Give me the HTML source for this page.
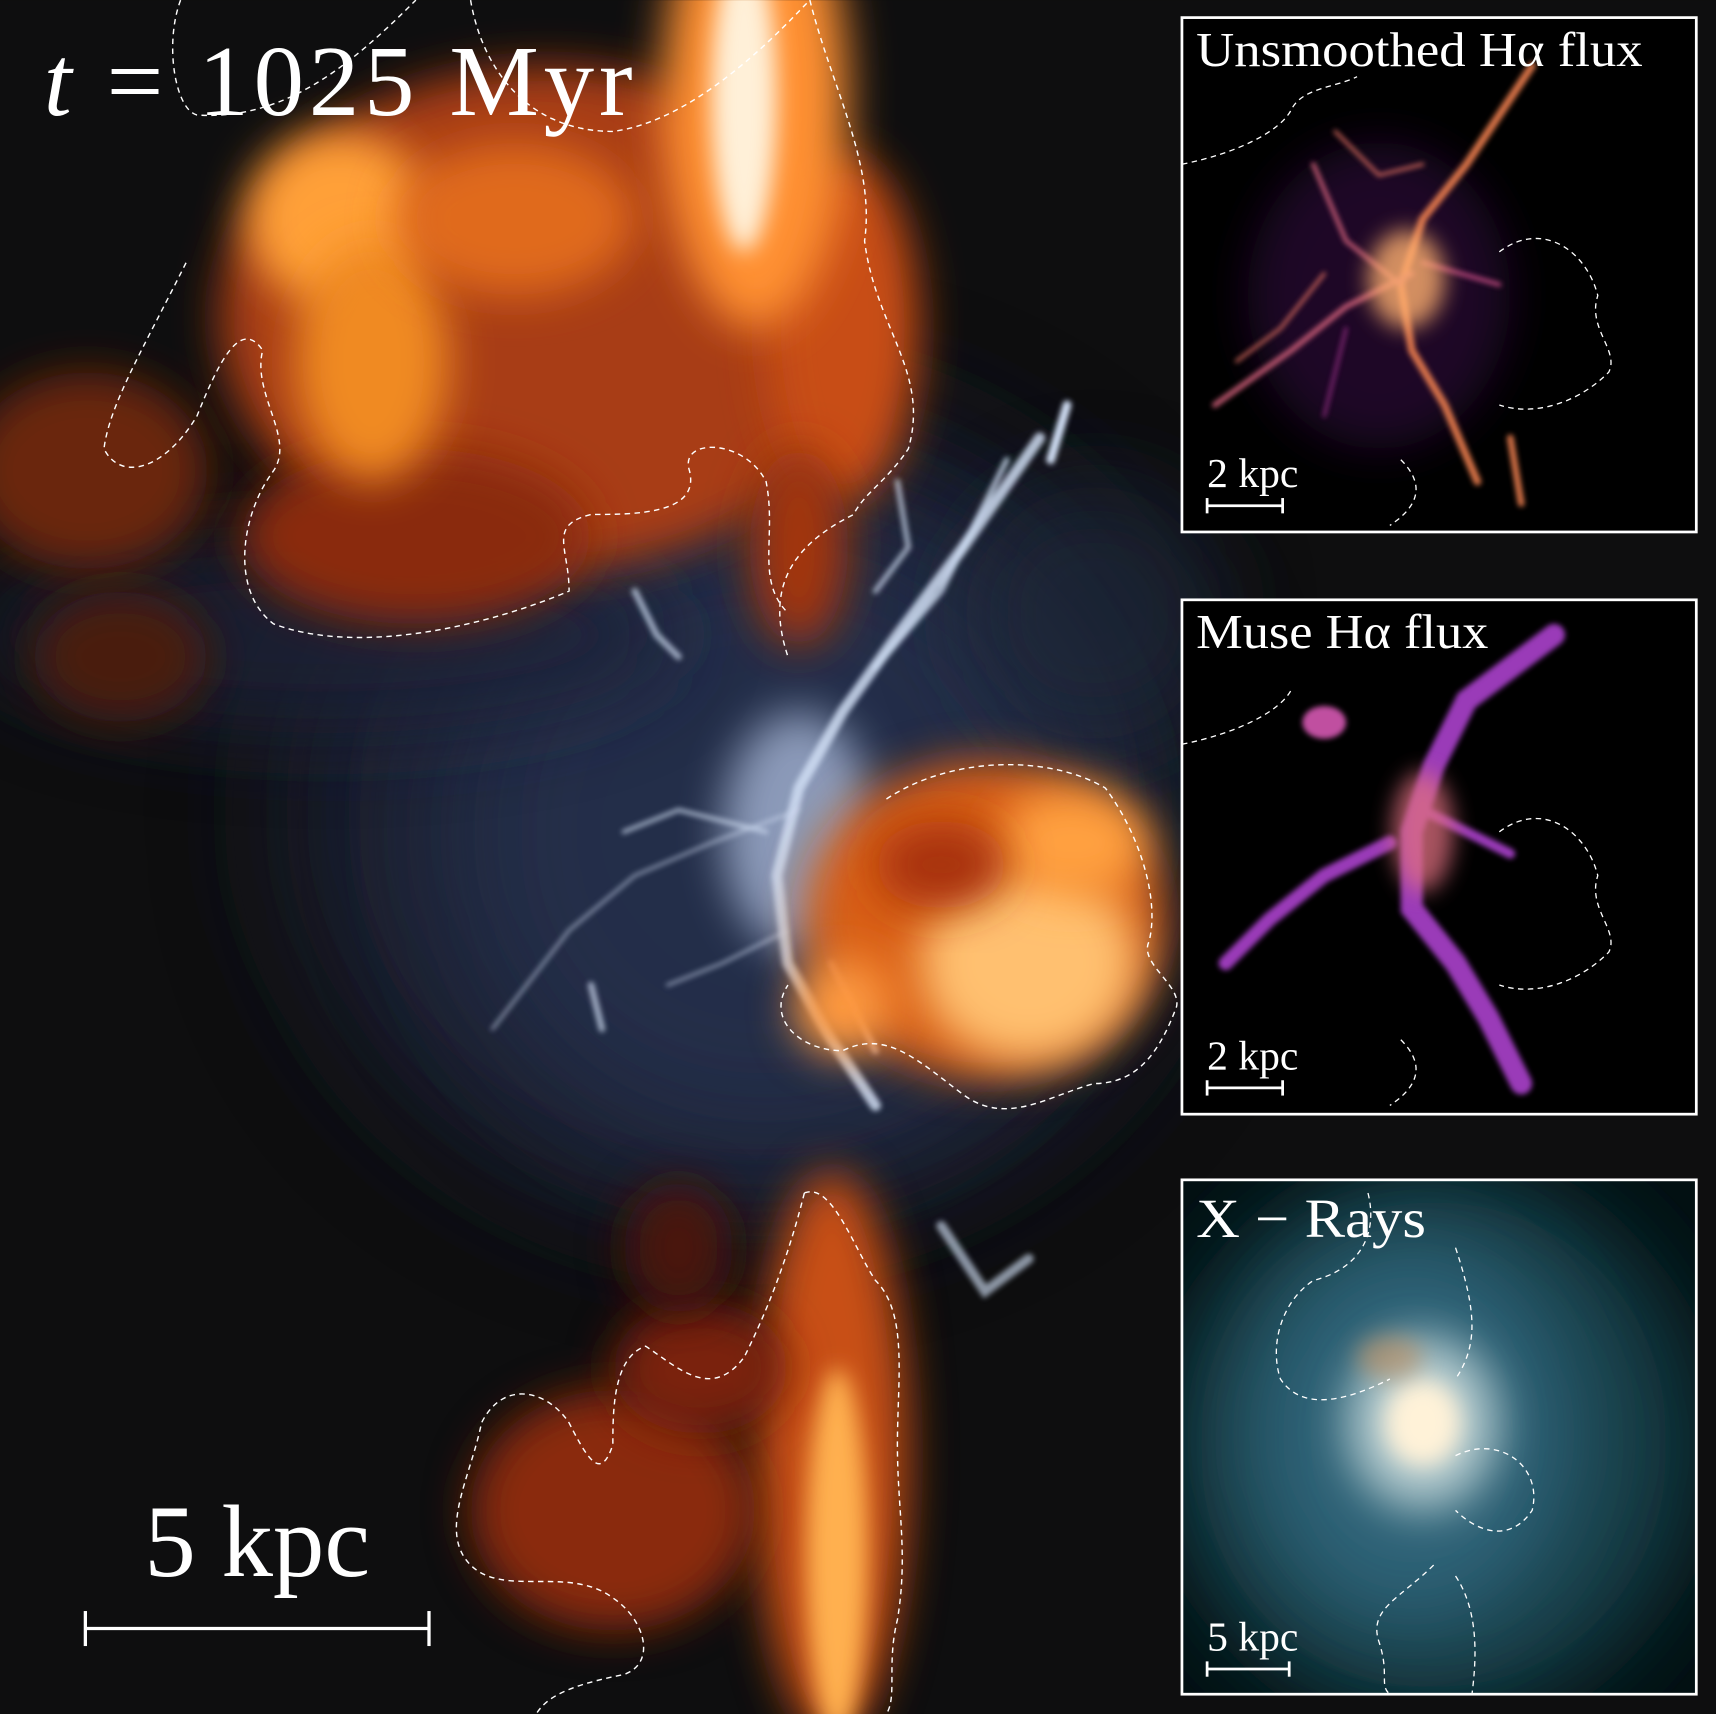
<!DOCTYPE html>
<html><head><meta charset="utf-8"><style>
html,body{margin:0;padding:0;background:#0e0e0f;}
svg{display:block}
text{font-family:"Liberation Serif",serif;fill:#fff}
</style></head><body>
<svg width="1716" height="1714" viewBox="0 0 1568 1566" xmlns="http://www.w3.org/2000/svg">
<defs>
<filter id="b60" x="-50%" y="-50%" width="200%" height="200%"><feGaussianBlur stdDeviation="60"/></filter>
<filter id="b40" x="-50%" y="-50%" width="200%" height="200%"><feGaussianBlur stdDeviation="40"/></filter>
<filter id="b20" x="-50%" y="-50%" width="200%" height="200%"><feGaussianBlur stdDeviation="20"/></filter>
<filter id="b10" x="-50%" y="-50%" width="200%" height="200%"><feGaussianBlur stdDeviation="10"/></filter>
<filter id="b4" x="-50%" y="-50%" width="200%" height="200%"><feGaussianBlur stdDeviation="2.5"/></filter>
<clipPath id="mainclip"><rect x="0" y="0" width="1568" height="1566"/></clipPath>
<clipPath id="c1"><rect x="1080" y="16" width="470" height="470"/></clipPath>
<clipPath id="c2"><rect x="1080" y="548" width="470" height="470"/></clipPath>
<clipPath id="c3"><rect x="1080" y="1078" width="470" height="470"/></clipPath>
</defs>
<rect width="1568" height="1566" fill="#0e0e0f"/>
<g clip-path="url(#mainclip)">
 <!-- blue diffuse halo -->
 <ellipse cx="680" cy="740" rx="420" ry="380" fill="#1a2336" filter="url(#b60)" opacity="0.9"/>
 <ellipse cx="700" cy="760" rx="300" ry="300" fill="#263350" filter="url(#b60)" opacity="0.8"/>
 <ellipse cx="300" cy="580" rx="320" ry="90" fill="#1a2438" filter="url(#b40)" opacity="0.8"/>
 <ellipse cx="1000" cy="560" rx="120" ry="120" fill="#1c2638" filter="url(#b40)" opacity="0.7"/>
 <!-- left faint orange -->
 <ellipse cx="80" cy="430" rx="110" ry="90" fill="#6a2610" filter="url(#b20)"/>
 <ellipse cx="110" cy="600" rx="80" ry="60" fill="#4a1a0a" filter="url(#b20)"/>
 <!-- top-left big orange cloud -->
 <ellipse cx="500" cy="290" rx="300" ry="230" fill="#a83e12" filter="url(#b20)"/>
 <ellipse cx="380" cy="490" rx="160" ry="80" fill="#8a2c0c" filter="url(#b20)"/>
 <ellipse cx="310" cy="200" rx="85" ry="80" fill="#ffa038" filter="url(#b20)"/>
 <ellipse cx="340" cy="330" rx="70" ry="110" fill="#f08a24" filter="url(#b20)"/>
 <ellipse cx="470" cy="200" rx="110" ry="70" fill="#e06a1c" filter="url(#b20)"/>
 <ellipse cx="770" cy="300" rx="70" ry="160" fill="#c84e14" filter="url(#b20)"/>
 <ellipse cx="730" cy="500" rx="45" ry="90" fill="#a23410" filter="url(#b20)"/>
 <!-- top jet -->
 <ellipse cx="690" cy="90" rx="85" ry="210" fill="#ff9030" filter="url(#b20)"/>
 <ellipse cx="680" cy="90" rx="30" ry="140" fill="#fff0d8" filter="url(#b10)"/>
 <!-- central blue-white filaments -->
 <ellipse cx="730" cy="760" rx="70" ry="110" fill="#b8c8e8" filter="url(#b20)" opacity="0.7"/>
 <g filter="url(#b4)" stroke="#d0def4" fill="none" stroke-linecap="round">
  <path d="M950 400 L880 500 L820 580 L770 650 L730 720 L710 800 L720 880 L760 950 L800 1010" stroke-width="10" opacity="0.85"/>
  <path d="M975 370 L960 420" stroke-width="8"/>
  <path d="M920 420 L860 540 L800 610" stroke-width="5" opacity="0.8"/>
  <path d="M730 740 L650 770 L580 800 L520 850 L450 940" stroke-width="3" opacity="0.6"/>
  <path d="M700 760 L620 740 L570 760" stroke-width="4" opacity="0.7"/>
  <path d="M580 540 L600 580 L620 600" stroke-width="6" opacity="0.7"/>
  <path d="M820 440 L830 500 L800 540" stroke-width="5" opacity="0.7"/>
  <path d="M860 1120 L900 1180 L940 1150" stroke-width="9" opacity="0.65"/>
  <path d="M540 900 L550 940" stroke-width="6" opacity="0.7"/>
  <path d="M720 850 L660 880 L610 900" stroke-width="3" opacity="0.6"/>
  <path d="M760 880 L800 960" stroke-width="6" opacity="0.9"/>
  <path d="M870 770 L880 760" stroke-width="14"/>
 </g>
 <!-- right orange cloud -->
 <ellipse cx="900" cy="840" rx="165" ry="145" fill="#d85e18" filter="url(#b20)"/>
 <ellipse cx="940" cy="880" rx="100" ry="90" fill="#ffc070" filter="url(#b20)"/>
 <ellipse cx="980" cy="770" rx="70" ry="50" fill="#ffa040" filter="url(#b20)"/>
 <ellipse cx="860" cy="790" rx="60" ry="40" fill="#a83010" filter="url(#b20)"/>
 <ellipse cx="770" cy="920" rx="45" ry="45" fill="#ff9a40" filter="url(#b20)"/>
 <!-- bottom jet and blob -->
 <ellipse cx="760" cy="1330" rx="70" ry="260" fill="#c85014" filter="url(#b20)"/>
 <ellipse cx="765" cy="1420" rx="28" ry="170" fill="#ffb050" filter="url(#b10)"/>
 <ellipse cx="560" cy="1380" rx="130" ry="110" fill="#8a2c0c" filter="url(#b20)"/>
 <ellipse cx="640" cy="1250" rx="80" ry="60" fill="#7a240a" filter="url(#b20)"/>
 <ellipse cx="620" cy="1140" rx="50" ry="60" fill="#4a180a" filter="url(#b20)"/>
 <!-- dashed contours -->
 <g stroke="#fff" stroke-width="1.3" stroke-dasharray="5,4" fill="none">
  <path d="M165 0 C150 40 160 100 180 105 C260 110 320 60 380 0"/>
  <path d="M430 0 C440 60 480 120 560 120 C640 110 720 20 740 0"/>
  <path d="M740 0 C760 80 800 150 790 220 C800 300 850 340 830 410 C810 440 790 450 780 470 C720 500 700 540 720 600"/>
  <path d="M170 240 C130 320 100 370 95 410 C110 440 150 430 180 380 C200 330 220 290 240 320 C230 360 270 400 250 430 C220 470 210 540 250 570 C330 600 450 570 520 540 C520 500 500 480 540 470 C580 470 640 470 630 430 C620 400 680 400 700 440 C710 490 690 530 720 560"/>
  <path d="M810 730 C870 690 960 690 1010 720 C1040 760 1060 820 1050 860 C1040 880 1080 900 1075 920 C1060 960 1040 990 1000 990 C960 1000 920 1030 880 1000 C840 970 810 940 770 960 C730 960 700 930 720 900"/>
  <path d="M735 1090 C760 1080 780 1140 800 1170 C830 1200 820 1260 820 1320 C820 1380 830 1420 820 1480 C810 1520 820 1550 810 1566"/>
  <path d="M735 1090 C720 1150 700 1200 680 1240 C650 1280 620 1250 590 1230 C560 1240 560 1290 560 1320 C550 1350 540 1340 520 1300 C500 1270 460 1260 440 1300 C430 1350 400 1400 430 1430 C460 1460 520 1430 560 1460 C590 1480 600 1520 570 1530 C520 1540 500 1550 490 1566"/>
 </g>
 <text x="40" y="105" font-size="92" textLength="538" lengthAdjust="spacing"><tspan font-style="italic">t</tspan>  = 1025 Myr</text>
 <text x="235" y="1440" font-size="94" text-anchor="middle">5 kpc</text>
 <g stroke="#fff" stroke-width="3">
  <line x1="78" y1="1488" x2="392" y2="1488"/><line x1="78" y1="1472" x2="78" y2="1504"/><line x1="392" y1="1472" x2="392" y2="1504"/>
 </g>
</g>

<!-- Inset 1 -->
<g>
 <rect x="1080" y="16" width="470" height="470" fill="#000"/>
 <g clip-path="url(#c1)">
  <ellipse cx="1260" cy="270" rx="120" ry="140" fill="#301040" filter="url(#b20)" opacity="0.6"/>
  <g filter="url(#b4)" stroke="#f08050" fill="none" stroke-linecap="round" opacity="0.9">
   <path d="M1400 60 L1340 150 L1300 200 L1280 260 L1290 320 L1320 370 L1350 440" stroke-width="7"/>
   <path d="M1290 250 L1230 280 L1180 320 L1110 370" stroke-width="5" stroke="#d0607a"/>
   <path d="M1280 260 L1230 220 L1200 150" stroke-width="4" stroke="#d0607a"/>
   <path d="M1300 240 L1370 260" stroke-width="4" stroke="#c04a80"/>
   <path d="M1230 300 L1210 380" stroke-width="3" stroke="#902a80"/>
   <path d="M1380 400 L1390 460" stroke-width="6"/>
   <path d="M1220 120 L1260 160 L1300 150" stroke-width="3" stroke="#e07060"/>
   <path d="M1130 330 L1170 300 L1210 250" stroke-width="3" stroke="#e07060"/>
  </g>
  <ellipse cx="1285" cy="255" rx="35" ry="45" fill="#ffb070" filter="url(#b10)" opacity="0.8"/>
  <g stroke="#fff" stroke-width="1.2" stroke-dasharray="5,4" fill="none">
   <path d="M1080 150 C1130 140 1170 120 1180 100 C1190 80 1220 80 1240 70"/>
   <path d="M1370 230 C1410 200 1450 230 1460 270 C1450 300 1480 320 1470 340 C1440 370 1400 380 1370 370"/>
   <path d="M1280 420 C1300 440 1300 460 1270 480"/>
  </g>
 </g>
 <rect x="1080" y="16" width="470" height="470" fill="none" stroke="#fff" stroke-width="2.5"/>
 <text x="1093" y="60" font-size="44" textLength="408" lengthAdjust="spacingAndGlyphs">Unsmoothed Hα flux</text>
 <text x="1103" y="445" font-size="38">2 kpc</text>
 <g stroke="#fff" stroke-width="2.5"><line x1="1103" y1="462" x2="1172" y2="462"/><line x1="1103" y1="455" x2="1103" y2="469"/><line x1="1172" y1="455" x2="1172" y2="469"/></g>
</g>

<!-- Inset 2 -->
<g>
 <rect x="1080" y="548" width="470" height="470" fill="#000"/>
 <g clip-path="url(#c2)">
  <g filter="url(#b4)" stroke="#9a3ab8" fill="none" stroke-linecap="round">
   <path d="M1420 580 L1340 640 L1310 700 L1290 760 L1290 830 L1330 880 L1360 930 L1390 990" stroke-width="20"/>
   <path d="M1270 770 L1210 800 L1160 840 L1120 880" stroke-width="13"/>
   <path d="M1300 740 L1380 780" stroke-width="9"/>
  </g>
  <ellipse cx="1300" cy="760" rx="28" ry="55" fill="#e07080" filter="url(#b10)" opacity="0.75"/>
  <ellipse cx="1210" cy="660" rx="20" ry="15" fill="#c050a0" filter="url(#b4)"/>
  <g stroke="#fff" stroke-width="1.2" stroke-dasharray="5,4" fill="none">
   <path d="M1080 680 C1130 670 1170 650 1180 630"/>
   <path d="M1370 760 C1410 730 1450 760 1460 800 C1450 830 1480 850 1470 870 C1440 900 1400 910 1370 900"/>
   <path d="M1280 950 C1300 970 1300 990 1270 1010"/>
  </g>
 </g>
 <rect x="1080" y="548" width="470" height="470" fill="none" stroke="#fff" stroke-width="2.5"/>
 <text x="1093" y="592" font-size="44" textLength="267" lengthAdjust="spacingAndGlyphs">Muse Hα flux</text>
 <text x="1103" y="977" font-size="38">2 kpc</text>
 <g stroke="#fff" stroke-width="2.5"><line x1="1103" y1="994" x2="1172" y2="994"/><line x1="1103" y1="987" x2="1103" y2="1001"/><line x1="1172" y1="987" x2="1172" y2="1001"/></g>
</g>

<!-- Inset 3 -->
<g>
 <rect x="1080" y="1078" width="470" height="470" fill="#021012"/>
 <g clip-path="url(#c3)">
  <ellipse cx="1310" cy="1320" rx="240" ry="250" fill="#143c46" filter="url(#b40)"/>
  <ellipse cx="1290" cy="1310" rx="150" ry="180" fill="#2e6478" filter="url(#b40)"/>
  <ellipse cx="1300" cy="1300" rx="70" ry="80" fill="#b0c8cc" filter="url(#b20)"/>
  <ellipse cx="1300" cy="1300" rx="35" ry="40" fill="#fff2d8" filter="url(#b10)"/>
  <ellipse cx="1270" cy="1240" rx="30" ry="20" fill="#c09060" filter="url(#b10)" opacity="0.6"/>
  <g stroke="#fff" stroke-width="1.2" stroke-dasharray="5,4" fill="none">
   <path d="M1250 1090 C1260 1130 1240 1160 1200 1170 C1170 1190 1160 1230 1170 1260 C1190 1290 1230 1280 1270 1260"/>
   <path d="M1330 1140 C1350 1200 1350 1230 1330 1260"/>
   <path d="M1330 1330 C1370 1310 1410 1340 1400 1380 C1380 1410 1350 1400 1330 1380"/>
   <path d="M1330 1440 C1350 1470 1350 1510 1345 1548"/>
   <path d="M1310 1430 C1280 1460 1250 1470 1260 1500 C1270 1530 1260 1540 1270 1548"/>
  </g>
 </g>
 <rect x="1080" y="1078" width="470" height="470" fill="none" stroke="#fff" stroke-width="2.5"/>
 <text x="1093" y="1130" font-size="50" textLength="210" lengthAdjust="spacingAndGlyphs">X − Rays</text>
 <text x="1103" y="1508" font-size="38">5 kpc</text>
 <g stroke="#fff" stroke-width="2.5"><line x1="1103" y1="1525" x2="1178" y2="1525"/><line x1="1103" y1="1518" x2="1103" y2="1532"/><line x1="1178" y1="1518" x2="1178" y2="1532"/></g>
</g>
</svg>
</body></html>
